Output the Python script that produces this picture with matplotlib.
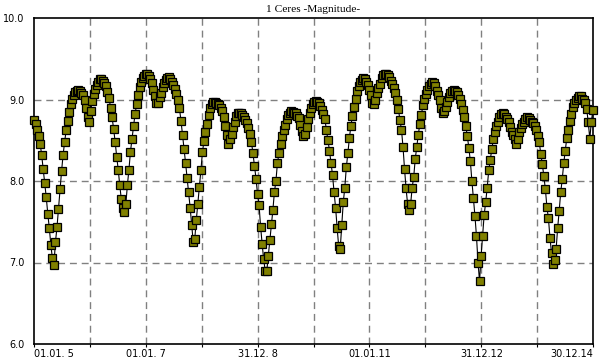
import matplotlib
matplotlib.use("Agg")
import matplotlib.pyplot as plt
import numpy as np

# Magnitude of 1 Ceres, one value every 10 days starting 01.01.2005
mag_a = [8.75, 8.70, 8.63, 8.55, 8.46, 8.32, 8.15, 7.98, 7.80, 7.60, 7.42, 7.22, 7.05, 6.97,
         7.25, 7.43, 7.66, 7.90, 8.12, 8.32, 8.48, 8.62, 8.74, 8.85, 8.94, 9.01, 9.06, 9.09, 9.11, 9.12,
         9.11, 9.08, 9.05, 9.00, 8.90, 8.78, 8.72, 8.86, 8.98, 9.07, 9.13, 9.18, 9.22, 9.25, 9.25, 9.23, 9.20, 9.16, 9.09, 9.02,
         8.90, 8.78, 8.64, 8.48, 8.30, 8.14, 7.95, 7.78, 7.67, 7.62, 7.72, 7.95, 8.14, 8.36, 8.52, 8.67, 8.82, 8.94, 9.06, 9.15]
mag_b = [9.21, 9.26, 9.29, 9.31, 9.31, 9.29, 9.25, 9.20, 9.12, 9.04, 8.96, 8.96, 9.03, 9.08, 9.15, 9.20, 9.24, 9.26, 9.27, 9.25,
         9.22, 9.18, 9.13, 9.07, 8.99, 8.89, 8.74, 8.57, 8.39, 8.22, 8.04, 7.86, 7.67, 7.46, 7.25, 7.29, 7.52, 7.72, 7.93, 8.13,
         8.35, 8.49, 8.60, 8.70, 8.81, 8.89, 8.95, 8.97, 8.97, 8.96, 8.95, 8.93, 8.90, 8.86, 8.79, 8.67, 8.57, 8.45, 8.52, 8.58, 8.66, 8.72]
mag_c = [8.80, 8.83, 8.84, 8.83, 8.81, 8.78, 8.75, 8.71, 8.65, 8.58, 8.48, 8.34, 8.18, 8.03, 7.84, 7.70, 7.44, 7.23, 7.04, 6.90,
         6.89, 7.08, 7.27, 7.47, 7.64, 7.86, 8.00, 8.22, 8.34, 8.45, 8.55, 8.63, 8.69, 8.76, 8.81, 8.84, 8.86, 8.85, 8.84, 8.83,
         8.80, 8.77, 8.69, 8.61, 8.55, 8.58, 8.66, 8.76, 8.84, 8.90, 8.94, 8.97, 8.98, 8.97, 8.96, 8.92, 8.87, 8.82, 8.76, 8.62,
         8.50, 8.37, 8.22, 8.07, 7.86, 7.67, 7.42, 7.20]
mag_d = [7.17, 7.46, 7.74, 7.92, 8.17, 8.34, 8.53, 8.68, 8.80, 8.91, 9.01, 9.10, 9.17, 9.21, 9.24, 9.26, 9.25, 9.22, 9.18, 9.12,
         9.05, 8.96, 8.94, 8.99, 9.08, 9.14, 9.19, 9.26, 9.30, 9.31, 9.31, 9.30, 9.27, 9.23, 9.19, 9.14, 9.08, 8.99, 8.88, 8.75,
         8.63, 8.42, 8.15, 7.91, 7.72, 7.65, 7.72, 7.92, 8.05, 8.27, 8.42, 8.57, 8.70, 8.81, 8.93, 9.01, 9.07, 9.12, 9.17, 9.19,
         9.21, 9.20, 9.16, 9.11, 9.05, 8.99, 8.90, 8.83, 8.86, 8.91, 8.97, 9.03, 9.08, 9.11, 9.12, 9.11, 9.09, 9.06, 9.01, 8.94]
mag_e = [8.87, 8.78, 8.68, 8.55, 8.41, 8.24, 8.00, 7.79, 7.57, 7.32, 7.00, 6.77, 7.08, 7.33, 7.58, 7.74, 7.92, 8.13, 8.26, 8.39,
         8.51, 8.60, 8.67, 8.73, 8.79, 8.82, 8.83, 8.82, 8.79, 8.76, 8.72, 8.66, 8.60, 8.56, 8.51, 8.46, 8.52, 8.60, 8.65, 8.70,
         8.73, 8.76, 8.78, 8.77, 8.75, 8.73, 8.71, 8.67, 8.62, 8.55, 8.48, 8.33, 8.21, 8.06, 7.90, 7.68, 7.54, 7.30, 7.12, 6.98,
         7.03, 7.16, 7.42, 7.63, 7.86, 8.02, 8.22, 8.37, 8.53, 8.63, 8.74, 8.82, 8.91, 8.96, 9.00, 9.02, 9.04, 9.04, 9.01, 8.99,
         8.96, 8.88, 8.72, 8.52, 8.72, 8.87]
step_days = 10

year_grid_days = [365, 730, 1096, 1461, 1826, 2191, 2556, 2922, 3287]
label_days = [0, 730, 1461, 2191, 2922, 3651]
label_texts = ["01.01. 5", "01.01. 7", "31.12. 8", "01.01.11", "31.12.12", "30.12.14"]
y_ticks = [6.0, 7.0, 8.0, 9.0, 10.0]
y_labels = ["6.0", "7.0", "8.0", "9.0", "10.0"]

mags = np.array(mag_a + mag_b + mag_c + mag_d + mag_e)
days = np.arange(len(mags)) * step_days

fig = plt.figure(figsize=(6, 3.6), dpi=100)
ax = fig.add_axes([34/600, 1-344/360, (593-34)/600, (344-18)/360])
ax.set_xlim(0, 3651)
ax.set_ylim(6.0, 10.0)

for d in year_grid_days:
    ax.axvline(d, color="#808080", lw=1.0, ls=(0, (5, 3.5)), zorder=1)
for yv in [7.0, 8.0, 9.0]:
    ax.axhline(yv, color="#808080", lw=1.0, ls=(0, (5, 3.5)), zorder=1)

ax.plot(days, mags, color="black", lw=0.8, marker="s", ms=5.8,
        mfc="#808000", mec="black", mew=0.9, zorder=3, clip_on=False)

ax.set_yticks(y_ticks)
ax.set_yticklabels(y_labels, fontsize=7, family="DejaVu Sans")
ax.tick_params(axis="y", length=0, pad=7)
ax.set_xticks(year_grid_days, minor=True)
ax.set_xticks(label_days)
ax.set_xticklabels(label_texts, fontsize=7, family="DejaVu Sans")
ax.tick_params(axis="x", which="both", length=2.5, width=0.8, direction="out", pad=1)
labs = ax.get_xticklabels()
labs[0].set_horizontalalignment("left")
labs[-1].set_horizontalalignment("right")

for s in ax.spines.values():
    s.set_linewidth(1.2)
    s.set_color("black")

fig.text((34+593)/2/600, 1-9/360, "1 Ceres -Magnitude-", ha="center", va="center",
         fontsize=8.2, family="Liberation Serif")

fig.savefig("out.png", dpi=100, facecolor="white")
